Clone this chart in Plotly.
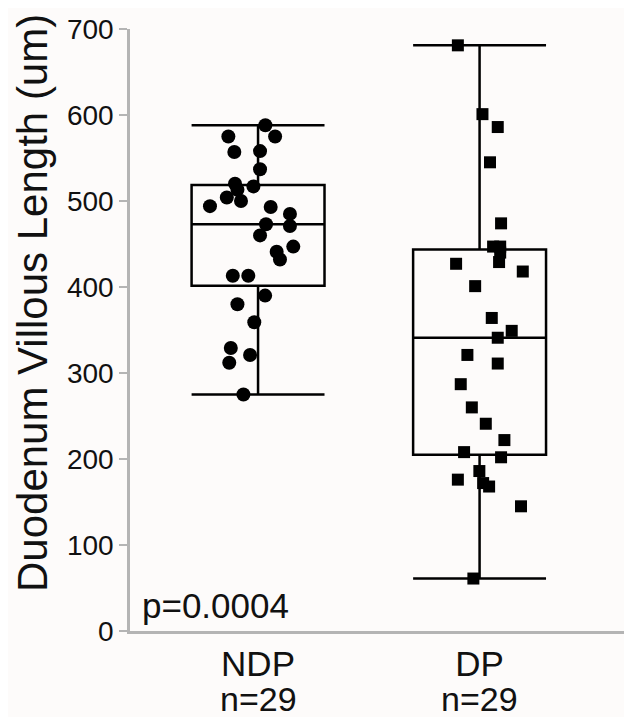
import plotly.graph_objects as go

categories = ["NDP", "DP"]
count_labels = ["n=29", "n=29"]

ndp_values = [588, 575, 575, 557, 558, 537, 520, 517, 513, 504, 500, 494, 493, 485,
              471, 473, 460, 447, 441, 432, 413, 413, 390, 380, 359, 329, 321, 312, 275]
ndp_jitter = [0.033, -0.134, 0.077, -0.107, 0.009, 0.009, -0.104, -0.021, -0.093, -0.141,
              -0.077, -0.217, 0.057, 0.144, 0.144, 0.036, 0.009, 0.159, 0.084, 0.099,
              -0.114, -0.044, 0.032, -0.093, -0.017, -0.123, -0.036, -0.130, -0.066]

dp_values = [681, 601, 586, 545, 474, 447, 447, 440, 429, 427, 418, 401, 364, 349, 341,
             321, 311, 287, 260, 241, 222, 208, 202, 186, 176, 172, 168, 145, 61]
dp_jitter = [-0.098, 0.013, 0.082, 0.047, 0.097, 0.061, 0.093, 0.093, 0.088, -0.106,
             0.195, -0.020, 0.055, 0.145, 0.082, -0.055, 0.082, -0.085, -0.035, 0.028,
             0.112, -0.070, 0.097, -0.001, -0.098, 0.016, 0.043, 0.187, -0.028]

y_ticks = [0, 100, 200, 300, 400, 500, 600, 700]
p_text = "p=0.0004"
y_title = "Duodenum Villous Length (um)"

FONT = "Liberation Sans, Arial, sans-serif"
AXIS_GREY = "#b4b4b4"
TXT = "#111111"
BG = "#fdfbfa"

fig = go.Figure()

for i, vals in enumerate([ndp_values, dp_values]):
    fig.add_trace(go.Box(
        y=vals, x0=i, name=categories[i], boxpoints=False,
        quartilemethod="exclusive", width=0.6, whiskerwidth=1,
        line=dict(color="black", width=2.5), fillcolor="rgba(0,0,0,0)",
        hoverinfo="skip", showlegend=False,
    ))

fig.add_trace(go.Scatter(
    x=[j for j in ndp_jitter], y=ndp_values, mode="markers",
    marker=dict(symbol="circle", size=14, color="black"), showlegend=False,
))
fig.add_trace(go.Scatter(
    x=[1 + j for j in dp_jitter], y=dp_values, mode="markers",
    marker=dict(symbol="square", size=12, color="black"), showlegend=False,
))

fig.add_annotation(
    text=p_text, xref="paper", yref="y", x=0.02, y=30, xanchor="left",
    yanchor="middle", showarrow=False, font=dict(family=FONT, size=35, color=TXT),
)
fig.add_annotation(
    text=y_title, textangle=-90, xref="paper", yref="paper", x=-0.193, y=0.545,
    xanchor="center", yanchor="middle", showarrow=False,
    font=dict(family=FONT, size=42, color=TXT),
)
for i, lab in enumerate(count_labels):
    fig.add_annotation(
        text=lab, xref="x", yref="paper", x=i, y=0, yshift=-68,
        xanchor="center", yanchor="middle", showarrow=False,
        font=dict(family=FONT, size=34, color=TXT),
    )

fig.update_layout(
    width=624, height=709,
    margin=dict(l=122, r=0, t=21, b=86),
    paper_bgcolor=BG, plot_bgcolor=BG,
    font=dict(family=FONT, size=27, color=TXT),
    showlegend=False,
)
fig.update_xaxes(
    range=[-0.578, 1.688], tickvals=[0, 1], ticktext=categories,
    showline=True, linecolor=AXIS_GREY, linewidth=2.5, ticks="",
    showgrid=False, zeroline=False, tickfont=dict(size=35, color=TXT),
)
fig.update_yaxes(
    range=[0, 700], tickvals=y_ticks,
    showline=True, linecolor=AXIS_GREY, linewidth=2.5, ticks="outside",
    ticklen=8, tickwidth=2, tickcolor=AXIS_GREY, showgrid=False, zeroline=False,
    tickfont=dict(size=28, color=TXT),
)

fig.write_html("out.html")
